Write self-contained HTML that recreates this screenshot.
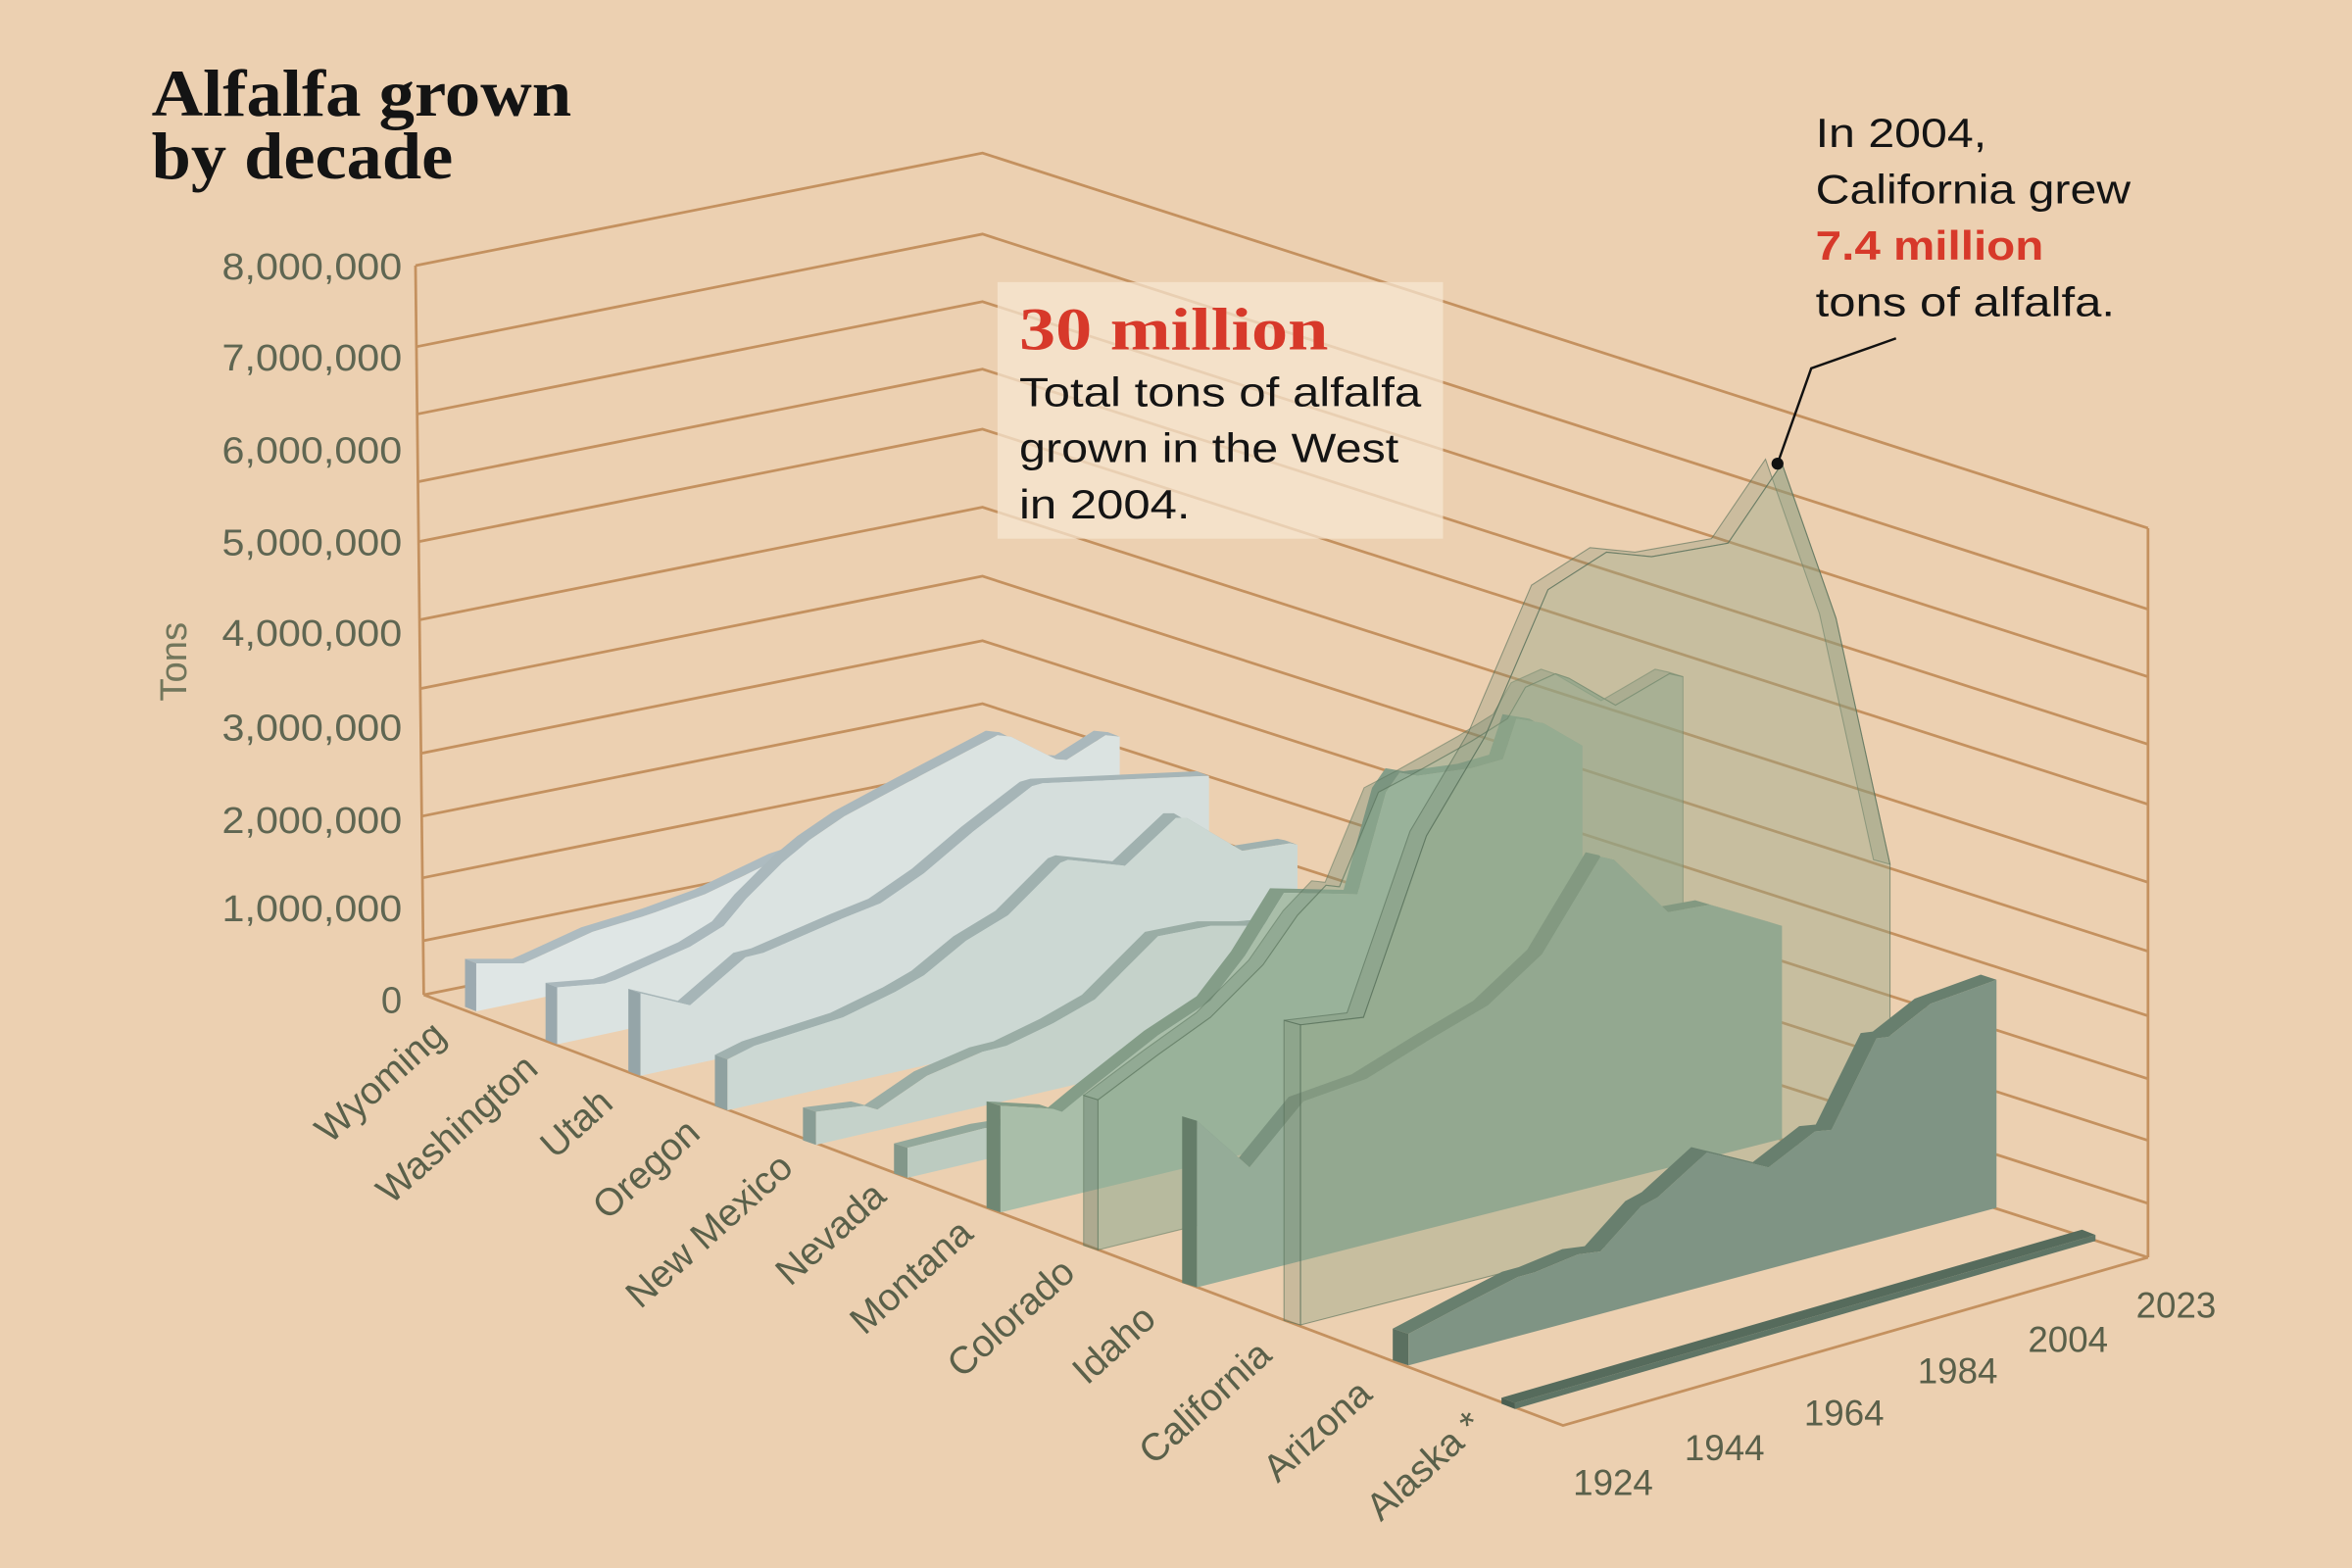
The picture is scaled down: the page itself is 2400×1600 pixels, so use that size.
<!DOCTYPE html>
<html>
<head>
<meta charset="utf-8">
<style>
html,body{margin:0;padding:0;background:#ecd0b1;}
svg{display:block;}
.sans{font-family:"Liberation Sans",Arial,sans-serif;}
.serif{font-family:"Liberation Serif",serif;}
</style>
</head>
<body>
<svg width="2400" height="1600" viewBox="0 0 1568 1045" preserveAspectRatio="none" xmlns="http://www.w3.org/2000/svg">
<rect x="0" y="0" width="1568" height="1045" fill="#ecd0b1"/>

<!-- grid lines -->
<g fill="none" stroke="#c4915f" stroke-width="1.8">
<polyline points="277,177 655,102 1432,352"/>
<polyline points="278,231 655,156 1432,406"/>
<polyline points="278,276 655,201 1432,451"/>
<polyline points="279,321 655,246 1432,496"/>
<polyline points="279,361 655,286 1432,536"/>
<polyline points="280,413 655,338 1432,588"/>
<polyline points="280,459 655,384 1432,634"/>
<polyline points="281,502 655,427 1432,677"/>
<polyline points="281,544 655,469 1432,719"/>
<polyline points="282,585 655,510 1432,760"/>
<polyline points="282,627 655,552 1432,802"/>
<polyline points="282.5,663 655,588 1432,838"/>
<line x1="1432" y1="352" x2="1432" y2="838"/>
<line x1="277" y1="177" x2="282.5" y2="663"/>
<polyline points="282.5,663 1042,950 1432,838"/>
</g>

<!-- annotation box -->
<rect x="665" y="188" width="297" height="171" fill="rgba(246,231,211,0.72)"/>

<!-- Wyoming -->
<polygon fill="#adbbc0" points="317.5,642 349,642 358,638 395,621 428,611 437,608 470,596 520,572 600,545 690,520 682.5,517 592.5,542 512.5,569 462.5,593 429.5,605 420.5,608 387.5,618 350.5,635 341.5,639 310,639"/>
<polygon fill="#9caab0" points="317.5,642 317.5,674 310,671 310,639"/>
<polygon fill="#dfe6e5" points="317.5,642 349,642 358,638 395,621 428,611 437,608 470,596 520,572 600,545 690,520 690,596 317.5,674"/>

<!-- Washington -->
<polygon fill="#aab8bc" points="371.5,658 403,655.5 410.5,653 437.5,641 460,631 482.5,617 497.5,599 521.5,575 539.5,560 563,544 604,522 665,490 674,491 704,506 711,506.5 737,490 746.5,491 738.7,488 729.2,487 703.2,503.5 696.2,503 666.2,488 657.2,487 596.2,519 555.2,541 531.7,557 513.7,572 489.7,596 474.7,614 452.2,628 429.7,638 402.7,650 395.2,652.5 363.7,655"/>
<polygon fill="#99a8ad" points="371.5,658 371.5,696 363.7,693 363.7,655"/>
<polygon fill="#dbe3e1" points="371.5,658 403,655.5 410.5,653 437.5,641 460,631 482.5,617 497.5,599 521.5,575 539.5,560 563,544 604,522 665,490 674,491 704,506 711,506.5 737,490 746.5,491 746.5,615 371.5,696"/>

<!-- Utah -->
<polygon fill="#a6b5b7" points="427,662 460,670 497,638 509,635 562,612 587,602 616,582 649,554 688,524 695,522 806,517 797.9,514 686.9,519 679.9,521 640.9,551 607.9,579 578.9,599 553.9,609 500.9,632 488.9,635 451.9,667 418.9,659"/>
<polygon fill="#95a5a8" points="427,662 427,717 418.9,714 418.9,659"/>
<polygon fill="#d5dedc" points="427,662 460,670 497,638 509,635 562,612 587,602 616,582 649,554 688,524 695,522 806,517 806,634 427,717"/>

<!-- Oregon -->
<polygon fill="#a0b1af" points="485,706 503,697 562,678 597,661 616,650 644,627 672,610 707,575 712,573 750,577 784,545 791,545 828,567 860,562 865,563 856.6,560 851.6,559 819.6,564 782.6,542 775.6,542 741.6,574 703.6,570 698.6,572 663.6,607 635.6,624 607.6,647 588.6,658 553.6,675 494.6,694 476.6,703"/>
<polygon fill="#8fa1a0" points="485,706 485,740 476.6,737 476.6,703"/>
<polygon fill="#ccd8d3" points="485,706 503,697 562,678 597,661 616,650 644,627 672,610 707,575 712,573 750,577 784,545 791,545 828,567 860,562 865,563 865,653.5 485,740"/>

<!-- New Mexico -->
<polygon fill="#9aada5" points="544,741 576,737 585,739.5 618,717 655,701 671,697 702,682 730,666 746,650 772,624 807,617 833,617 870,614 927,610 918.3,607 861.3,611 824.3,614 798.3,614 763.3,621 737.3,647 721.3,663 693.3,679 662.3,694 646.3,698 609.3,714 576.3,736.5 567.3,734 535.3,738"/>
<polygon fill="#899d95" points="544,741 544,763 535.3,760 535.3,738"/>
<polygon fill="#c5d2ca" points="544,741 576,737 585,739.5 618,717 655,701 671,697 702,682 730,666 746,650 772,624 807,617 833,617 870,614 927,610 927,674 544,763"/>

<!-- Nevada -->
<polygon fill="#93a89b" points="605,765 656,752 700,745 760,720 830,690 990,660 981,657 821,687 751,717 691,742 647,749 596,762"/>
<polygon fill="#82978a" points="605,765 605,785 596,782 596,762"/>
<polygon fill="#bccbc0" points="605,765 656,752 700,745 760,720 830,690 990,660 990,694 605,785"/>

<!-- Montana -->
<polygon fill="#849d88" points="667,737 702,739 708,741 725,727 772,690 807,667 830,637 856,595 905,596 924,528 933,515 945,517 981,512 1002,506 1011,479 1029,482 1055,497 1045.7,494 1019.7,479 1001.7,476 992.7,503 971.7,509 935.7,514 923.7,512 914.7,525 895.7,593 846.7,592 820.7,634 797.7,664 762.7,687 715.7,724 698.7,738 692.7,736 657.7,734"/>
<polygon fill="#6f8773" points="667,737 667,808 657.7,805 657.7,734"/>
<polygon fill="#a9bea9" points="667,737 702,739 708,741 725,727 772,690 807,667 830,637 856,595 905,596 924,528 933,515 945,517 981,512 1002,506 1011,479 1029,482 1055,497 1055,715 667,808"/>

<!-- Colorado (translucent) -->
<g stroke="rgba(90,115,92,0.5)" stroke-width="0.7">
<polygon fill="rgba(110,138,115,0.38)" points="732,733 772,703 807,678 842,643 865,610 884,590 893,591 919,528 940,517 981,494 1005,479 1017,458 1037,449 1046,452 1077,470 1113,449 1122,451 1112.4,448 1103.4,446 1067.4,467 1036.4,449 1027.4,446 1007.4,455 995.4,476 971.4,491 930.4,514 909.4,525 883.4,588 874.4,587 855.4,607 832.4,640 797.4,675 762.4,700 722.4,730"/>
<polygon fill="rgba(100,125,105,0.45)" points="732,733 732,833 722.4,830 722.4,730"/>
<polygon fill="rgba(140,168,142,0.55)" points="732,733 772,703 807,678 842,643 865,610 884,590 893,591 919,528 940,517 981,494 1005,479 1017,458 1037,449 1046,452 1077,470 1113,449 1122,451 1122,737 732,833"/>
</g>

<!-- Idaho -->
<polygon fill="#7a937f" points="798,747 833,778 869,734 911,719 953,693 992,670 1028,636 1067,571 1076,573 1112,608 1140,603 1188,617 1178.1,614 1130.1,600 1102.1,605 1066.1,570 1057.1,568 1018.1,633 982.1,667 943.1,690 901.1,716 859.1,731 823.1,775 788.1,744"/>
<polygon fill="#657d69" points="798,747 798,858 788.1,855 788.1,744"/>
<polygon fill="#95ac98" points="798,747 833,778 869,734 911,719 953,693 992,670 1028,636 1067,571 1076,573 1112,608 1140,603 1188,617 1188,759 798,858"/>

<!-- California (translucent) -->
<g stroke="rgba(85,110,88,0.6)" stroke-width="0.7">
<polygon fill="rgba(120,135,110,0.28)" points="867,683 909,678 951,557 990,491 1032,393 1071,368 1101,371 1152,362 1188,309 1224,412 1260,576 1249,573 1213,409 1177,306 1141,359 1090,368 1060,365 1021,390 979,488 940,554 898,675 856,680"/>
<polygon fill="rgba(120,135,110,0.3)" points="867,683 867,883 856,880 856,680"/>
<polygon fill="rgba(145,162,132,0.4)" points="867,683 909,678 951,557 990,491 1032,393 1071,368 1101,371 1152,362 1188,309 1224,412 1260,576 1260,782 867,883"/>
</g>

<!-- Arizona -->
<polygon fill="#687f6e" points="939,889 973,871 1012,851 1023,848 1052,836 1067,834 1094,804 1105,798 1138,768 1179,778 1210,754 1221,753 1251,692 1259,691 1287,669 1331,653 1320.5,649.5 1276.5,665.5 1248.5,687.5 1240.5,688.5 1210.5,749.5 1199.5,750.5 1168.5,774.5 1127.5,764.5 1094.5,794.5 1083.5,800.5 1056.5,830.5 1041.5,832.5 1012.5,844.5 1001.5,847.5 962.5,867.5 928.5,885.5"/>
<polygon fill="#5b7060" points="939,889 939,910 928.5,906.5 928.5,885.5"/>
<polygon fill="#7f9484" points="939,889 973,871 1012,851 1023,848 1052,836 1067,834 1094,804 1105,798 1138,768 1179,778 1210,754 1221,753 1251,692 1259,691 1287,669 1331,653 1331,805 939,910"/>

<!-- Alaska -->
<polygon fill="#566b5c" points="1010,935 1397,823 1388,819.5 1001,931.5"/>
<polygon fill="#4b5f51" points="1010,935 1010,939 1001,935.5 1001,931.5"/>
<polygon fill="#5f7566" points="1010,935 1397,823 1397,827 1010,939"/>

<!-- Title -->
<text class="serif" x="101" y="77" font-size="44" font-weight="bold" fill="#141414" textLength="280" lengthAdjust="spacingAndGlyphs">Alfalfa grown</text>
<text class="serif" x="101" y="119" font-size="44" font-weight="bold" fill="#141414" textLength="201" lengthAdjust="spacingAndGlyphs">by decade</text>

<!-- Y axis labels -->
<g class="sans" font-size="25" fill="#5f6652" text-anchor="end">
<text x="268" y="186" textLength="120" lengthAdjust="spacingAndGlyphs">8,000,000</text>
<text x="268" y="247" textLength="120" lengthAdjust="spacingAndGlyphs">7,000,000</text>
<text x="268" y="308.5" textLength="120" lengthAdjust="spacingAndGlyphs">6,000,000</text>
<text x="268" y="370" textLength="120" lengthAdjust="spacingAndGlyphs">5,000,000</text>
<text x="268" y="430.5" textLength="120" lengthAdjust="spacingAndGlyphs">4,000,000</text>
<text x="268" y="493.5" textLength="120" lengthAdjust="spacingAndGlyphs">3,000,000</text>
<text x="268" y="555" textLength="120" lengthAdjust="spacingAndGlyphs">2,000,000</text>
<text x="268" y="614" textLength="120" lengthAdjust="spacingAndGlyphs">1,000,000</text>
<text x="268" y="675">0</text>
</g>
<text class="sans" transform="translate(124,441) rotate(-90)" text-anchor="middle" font-size="25" fill="#72765c">Tons</text>

<!-- State labels -->
<g class="sans" font-size="25.5" fill="#5a604a" text-anchor="end">
<text transform="translate(298.5,692) rotate(-42)">Wyoming</text>
<text transform="translate(360,714) rotate(-42)">Washington</text>
<text transform="translate(410,737) rotate(-42)">Utah</text>
<text transform="translate(468,757) rotate(-42)">Oregon</text>
<text transform="translate(530,780) rotate(-42)">New Mexico</text>
<text transform="translate(592,799) rotate(-42)">Nevada</text>
<text transform="translate(650,824) rotate(-42)">Montana</text>
<text transform="translate(718,850) rotate(-42)">Colorado</text>
<text transform="translate(772,881) rotate(-42)">Idaho</text>
<text transform="translate(849,905) rotate(-42)">California</text>
<text transform="translate(916,931) rotate(-42)">Arizona</text>
<text transform="translate(990,952) rotate(-42)">Alaska *</text>
</g>

<!-- Year labels -->
<g class="sans" font-size="24" fill="#5a604a">
<text x="1048.7" y="996.4">1924</text>
<text x="1123" y="973">1944</text>
<text x="1202.7" y="950">1964</text>
<text x="1278.4" y="922">1984</text>
<text x="1352" y="901">2004</text>
<text x="1424" y="878">2023</text>
</g>

<!-- Box annotation -->
<text class="serif" x="679.5" y="233" font-size="40" font-weight="bold" fill="#d7392a" textLength="206" lengthAdjust="spacingAndGlyphs">30 million</text>
<g class="sans" font-size="27" fill="#141414">
<text x="679.5" y="270.6" textLength="268" lengthAdjust="spacingAndGlyphs">Total tons of alfalfa</text>
<text x="679.5" y="308" textLength="253" lengthAdjust="spacingAndGlyphs">grown in the West</text>
<text x="679.5" y="345.5" textLength="114" lengthAdjust="spacingAndGlyphs">in 2004.</text>
</g>

<!-- Right annotation -->
<g class="sans" font-size="27" fill="#141414">
<text x="1210.4" y="98" textLength="114" lengthAdjust="spacingAndGlyphs">In 2004,</text>
<text x="1210.4" y="135.5" textLength="210" lengthAdjust="spacingAndGlyphs">California grew</text>
<text x="1210.4" y="173" font-weight="bold" fill="#d7392a" textLength="152" lengthAdjust="spacingAndGlyphs">7.4 million</text>
<text x="1210.4" y="210.5" textLength="199.5" lengthAdjust="spacingAndGlyphs">tons of alfalfa.</text>
</g>

<!-- Leader -->
<polyline points="1185,309 1207.5,245.5 1264,225.5" fill="none" stroke="#111" stroke-width="1.6"/>
<circle cx="1185" cy="309" r="4" fill="#111"/>
</svg>
</body>
</html>
